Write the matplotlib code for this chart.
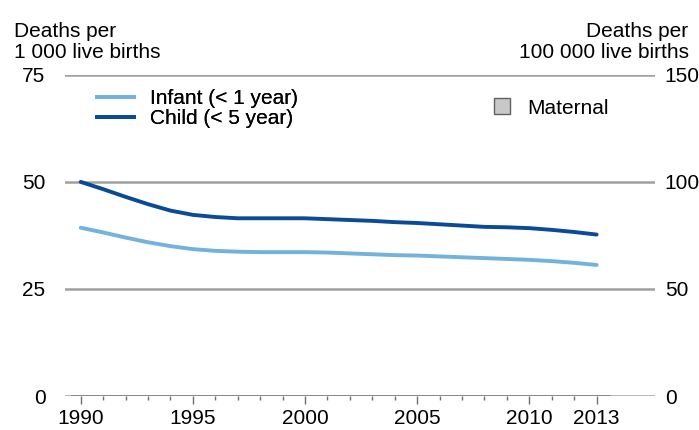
import numpy as np
import matplotlib.pyplot as plt
from matplotlib.patches import Patch
from matplotlib.lines import Line2D

years = list(range(1990, 2014))
child = [50.0, 48.3, 46.5, 44.8, 43.3, 42.3, 41.8, 41.5, 41.5, 41.5, 41.5, 41.3,
         41.1, 40.9, 40.6, 40.4, 40.1, 39.8, 39.5, 39.4, 39.2, 38.8, 38.3, 37.7]
infant = [39.3, 38.2, 37.0, 35.9, 35.0, 34.3, 33.9, 33.7, 33.6, 33.6, 33.6, 33.5,
          33.3, 33.1, 32.9, 32.8, 32.6, 32.4, 32.2, 32.0, 31.8, 31.5, 31.1, 30.6]
xticks = [1990, 1995, 2000, 2005, 2010, 2013]
left_ticks = [0, 25, 50, 75]
right_ticks = [0, 50, 100, 150]

light = '#72b2dc'
dark = '#0b4a97'
grid = '#a0a0a0'
fs = 15

def main():
    plt.rcParams['font.family'] = ['Liberation Sans', 'DejaVu Sans']
    fig = plt.figure(figsize=(6.99, 4.30), dpi=100)
    ax = fig.add_axes([0.093, 0.079, 0.844, 0.747])
    ax.set_xlim(1989.3, 2015.6)
    ax.set_ylim(0, 75)

    for v in left_ticks:
        ax.axhline(v, color=grid, linewidth=1.8, zorder=1)
    ax.plot([1989.6, 2013.6], [0, 0], color='#808080', linewidth=1.2, zorder=2)

    ax.plot(years, infant, color=light, linewidth=2.8, solid_capstyle='round', zorder=3)
    ax.plot(years, child, color=dark, linewidth=2.8, solid_capstyle='round', zorder=3)

    for s in ax.spines.values():
        s.set_visible(False)
    ax.set_yticks(left_ticks)
    ax.tick_params(axis='y', length=0, pad=14, labelsize=fs)
    ax.set_xticks(xticks)
    ax.set_xticks(years, minor=True)
    ax.tick_params(axis='x', which='major', length=6, width=1, color='#707070',
                   labelsize=fs, pad=3)
    ax.tick_params(axis='x', which='minor', length=3, width=1, color='#707070')

    ax2 = ax.twinx()
    ax2.set_ylim(0, 150)
    for s in ax2.spines.values():
        s.set_visible(False)
    ax2.set_yticks(right_ticks)
    ax2.tick_params(axis='y', length=0, pad=7, labelsize=fs)

    fig.text(0.02, 0.904, 'Deaths per', fontsize=fs, ha='left', va='bottom')
    fig.text(0.02, 0.856, '1 000 live births', fontsize=fs, ha='left', va='bottom')
    fig.text(0.985, 0.904, 'Deaths per', fontsize=fs, ha='right', va='bottom')
    fig.text(0.985, 0.856, '100 000 live births', fontsize=fs, ha='right', va='bottom')

    handles = [Line2D([], [], color=light, linewidth=2.8),
               Line2D([], [], color=dark, linewidth=2.8)]
    leg = ax.legend(handles, ['Infant (< 1 year)', 'Child (< 5 year)'],
                    loc='upper left', bbox_to_anchor=(0.03, 1.0), frameon=False,
                    fontsize=fs, handlelength=1.75, handletextpad=0.8,
                    labelspacing=0.05, borderaxespad=0.3)
    ax.add_artist(leg)
    ax2.legend([Patch(facecolor='#c8c8c8', edgecolor='#606060', linewidth=1)],
               ['Maternal'], loc='upper left', bbox_to_anchor=(0.695, 0.985),
               frameon=False, fontsize=fs, handlelength=0.8, handleheight=0.8,
               handletextpad=0.8)

    fig.savefig('out.png', dpi=100)


if __name__ == '__main__':
    main()
